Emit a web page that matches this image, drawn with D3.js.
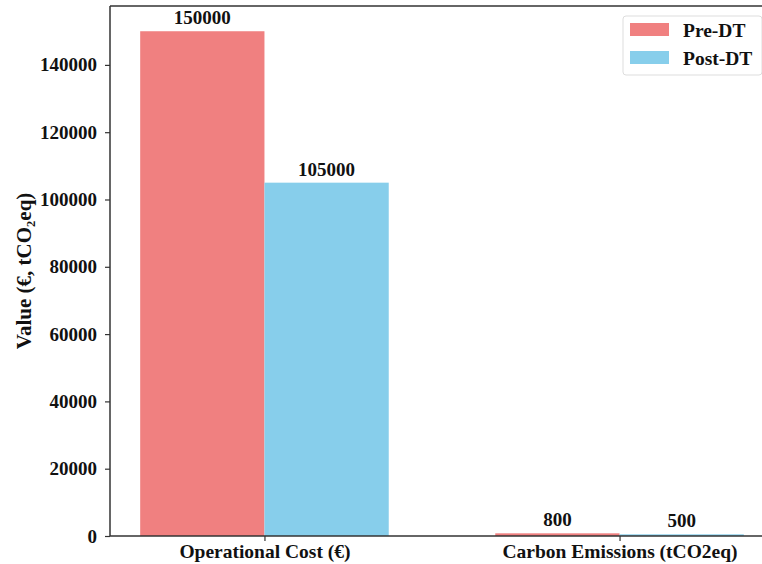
<!DOCTYPE html>
<html><head><meta charset="utf-8">
<script src="https://cdn.jsdelivr.net/npm/d3@7"></script>
<style>body{margin:0;background:#fff}svg{display:block}text{font-family:"Liberation Serif","Times New Roman",serif;font-weight:bold;fill:#111}</style>
</head><body><svg id="c" width="762" height="564"></svg>
<script>
const categories = ["Operational Cost (€)", "Carbon Emissions (tCO2eq)"];
const seriesNames = ["Pre-DT", "Post-DT"];
const preDT = [150000, 800];
const postDT = [105000, 500];
const yTicks = [0, 20000, 40000, 60000, 80000, 100000, 120000, 140000];
const colors = ["#F08080", "#87CEEB"];

const svg = d3.select("#c");
const L = 110, T = 6, B = 536, R = 774;
const barW = 0.35;
const x = d3.scaleLinear().domain([-0.435, 1.435]).range([L, R]);
const y = d3.scaleLinear().domain([0, 157500]).range([B, T]);
const series = [preDT, postDT];

series.forEach((vals, si) => {
  const off = si === 0 ? -barW/2 : barW/2;
  svg.selectAll(null).data(vals).enter().append("rect")
    .attr("x", (d,i) => x(i + off - barW/2))
    .attr("width", x(barW) - x(0))
    .attr("y", d => y(d))
    .attr("height", d => B - y(d))
    .attr("fill", colors[si]);
  svg.selectAll(null).data(vals).enter().append("text")
    .attr("x", (d,i) => x(i + off))
    .attr("y", d => y(d) - 7)
    .attr("text-anchor", "middle")
    .style("font-size", "19px")
    .text(d => d);
});

// y axis
const ya = svg.append("g").attr("transform", `translate(${L},0)`)
  .call(d3.axisLeft(y).tickValues(yTicks).tickSize(5).tickPadding(8).tickFormat(d3.format("d")));
ya.select(".domain").remove();
ya.selectAll("line").attr("stroke", "#333").attr("stroke-width", 1.2);
ya.selectAll("text").style("font-size", "19px").style("font-family", '"Liberation Serif",serif').style("font-weight","bold").attr("fill","#111");

// x axis
const xa = svg.append("g").attr("transform", `translate(0,${B})`)
  .call(d3.axisBottom(x).tickValues([0,1]).tickSize(5).tickPadding(3).tickFormat(i => categories[i]));
xa.select(".domain").remove();
xa.selectAll("line").attr("stroke", "#333").attr("stroke-width", 1.2);
xa.selectAll("text").style("font-size", "19.5px").style("font-family", '"Liberation Serif",serif').style("font-weight","bold").attr("fill","#111");

// spines
svg.append("line").attr("x1", L).attr("x2", L).attr("y1", T).attr("y2", B).attr("stroke", "#333").attr("stroke-width", 1.5);
svg.append("line").attr("x1", L).attr("x2", R).attr("y1", B).attr("y2", B).attr("stroke", "#333").attr("stroke-width", 1.5);
svg.append("line").attr("x1", L).attr("x2", R).attr("y1", T).attr("y2", T).attr("stroke", "#333").attr("stroke-width", 1.5);
svg.append("line").attr("x1", R).attr("x2", R).attr("y1", T).attr("y2", B).attr("stroke", "#333").attr("stroke-width", 1.5);

// y title
svg.append("text").attr("transform", `translate(24,${(T+B)/2}) rotate(-90)`)
  .attr("text-anchor", "middle").attr("dominant-baseline", "central")
  .style("font-size", "21px").text("Value (€, tCO₂eq)");

// legend
const lg = svg.append("g");
lg.append("rect").attr("x", 623).attr("y", 16).attr("width", 139).attr("height", 59).attr("rx", 3)
  .attr("fill", "#fff").attr("stroke", "#ddd").attr("stroke-width", 1);
seriesNames.forEach((n, i) => {
  lg.append("rect").attr("x", 630).attr("y", 23 + i*28).attr("width", 39).attr("height", 13).attr("fill", colors[i]);
  lg.append("text").attr("x", 683).attr("y", 30 + i*28).attr("dominant-baseline", "central")
    .style("font-size", "19.5px").text(n);
});
</script></body></html>
